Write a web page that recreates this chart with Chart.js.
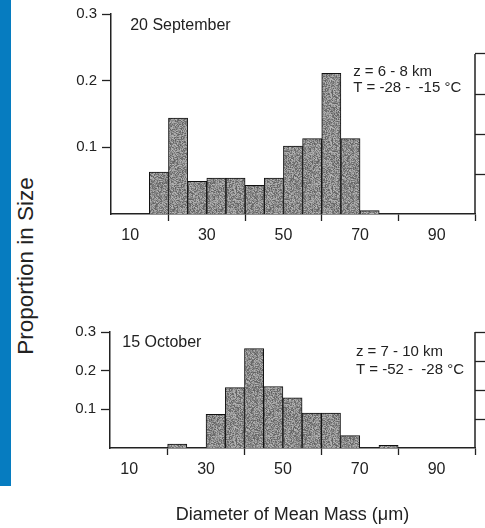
<!DOCTYPE html>
<html lang="en">
<head>
<meta charset="UTF-8">
<title>Proportion in Size</title>
<script src="https://cdn.jsdelivr.net/npm/chart.js"></script>
<style>
    body { margin: 0; background: #fff; width: 485px; height: 528px; position: relative; overflow: hidden; }
    #barra { position: absolute; left: 0; top: 0; width: 11px; height: 486px; background: #067cc0; }
    #titulo_y { position: absolute; left: 26px; top: 266px; transform: translate(-50%, -50%) rotate(-90deg);
        font: 22.5px 'Liberation Sans', Arial, sans-serif; color: #222; white-space: nowrap; }
    #painel1 { position: absolute; left: 0; top: 0; }
    #painel2 { position: absolute; left: 0; top: 300px; }
</style>
</head>
<body>
<div id="barra"></div>
<div id="titulo_y">Proportion in Size</div>
<canvas id="painel1" width="485" height="250"></canvas>
<canvas id="painel2" width="485" height="228"></canvas>
<script>
// bins (lower edge, um) and proportions
var binStarts = [15, 20, 25, 30, 35, 40, 45, 50, 55, 60, 65, 70, 75];
var binWidth = 5;
var septValues = [0.063, 0.144, 0.049, 0.054, 0.054, 0.043, 0.054, 0.102, 0.113, 0.211, 0.113, 0.005, 0];
var octValues  = [0, 0.010, 0, 0.087, 0.156, 0.257, 0.159, 0.130, 0.090, 0.090, 0.032, 0, 0.007];
var xTicks = [10, 30, 50, 70, 90];
var yTicks = [0.1, 0.2, 0.3];
var rightTicks = [1, 2, 3, 4];

Chart.defaults.font.family = "'Liberation Sans', Arial, sans-serif";
Chart.defaults.color = '#222';

// grey stipple like the printed bars
function pontilhado() {
    var c = document.createElement('canvas');
    c.width = 48; c.height = 48;
    var g = c.getContext('2d');
    var img = g.createImageData(48, 48);
    var s = 7;
    for (var i = 0; i < img.data.length; i += 4) {
        s = (s * 1103515245 + 12345) & 0x7fffffff;
        var v = 95 + ((s >> 16) % 90);
        img.data[i] = img.data[i + 1] = img.data[i + 2] = v;
        img.data[i + 3] = 255;
    }
    g.putImageData(img, 0, 0);
    return g.createPattern(c, 'repeat');
}
var textura = pontilhado();

// text labels + partial right axis line
var extras = {
    id: 'extras',
    afterDraw: function (chart) {
        var o = chart.options.plugins.extras;
        var ctx = chart.ctx, x = chart.scales.x, y = chart.scales.y, y2 = chart.scales.y2;
        ctx.save();
        ctx.strokeStyle = '#222';
        ctx.lineWidth = 1.5;
        ctx.beginPath();
        ctx.moveTo(y2.left, y2.getPixelForValue(0));
        ctx.lineTo(y2.left, y2.getPixelForValue(o.rightTop));
        ctx.stroke();
        ctx.fillStyle = '#222';
        ctx.textBaseline = 'middle';
        o.textos.forEach(function (t) {
            ctx.font = t.size + "px 'Liberation Sans', Arial, sans-serif";
            ctx.fillText(t.text, x.getPixelForValue(t.x), y.getPixelForValue(t.y));
        });
        ctx.restore();
    }
};

function painel(id, valores, cfg) {
    return new Chart(document.getElementById(id), {
        type: 'bar',
        data: {
            datasets: [{
                data: binStarts.map(function (b, i) { return { x: b + binWidth / 2, y: valores[i] }; }),
                backgroundColor: textura,
                borderColor: '#111',
                borderWidth: 1,
                barPercentage: 1,
                categoryPercentage: 1
            }]
        },
        options: {
            responsive: false,
            animation: false,
            layout: { padding: { top: cfg.top, left: 0, right: 0, bottom: 0 } },
            plugins: {
                legend: { display: false },
                tooltip: { enabled: false },
                extras: { rightTop: cfg.rightTop, textos: cfg.textos }
            },
            scales: {
                x: {
                    type: 'linear', min: 5, max: 100, offset: false,
                    afterBuildTicks: function (s) { s.ticks = xTicks.map(function (v) { return { value: v }; }); },
                    afterFit: function (s) { s.height = cfg.xHeight; },
                    grid: { drawOnChartArea: false, tickLength: 7, tickColor: '#222', tickWidth: 1.3 },
                    border: { color: '#222', width: 1.5 },
                    ticks: { font: { size: 16 }, color: '#222', padding: 5, maxRotation: 0, autoSkip: false },
                    title: cfg.xTitle
                },
                y: {
                    position: 'left', min: 0, max: 0.3,
                    afterBuildTicks: function (s) { s.ticks = yTicks.map(function (v) { return { value: v }; }); },
                    afterFit: function (s) { s.width = cfg.yWidth; },
                    grid: { drawOnChartArea: false, tickLength: 9, tickColor: '#222', tickWidth: 1.3 },
                    border: { color: '#222', width: 1.5 },
                    ticks: { font: { size: 15 }, color: '#222', padding: 5,
                        callback: function (v) { return v.toFixed(1); } }
                },
                y2: {
                    position: 'right', min: 0, max: cfg.rightMax,
                    afterBuildTicks: function (s) { s.ticks = rightTicks.map(function (v) { return { value: v }; }); },
                    afterFit: function (s) { s.width = 10; },
                    grid: { drawOnChartArea: false, tickLength: 10, tickColor: '#222', tickWidth: 1.3 },
                    border: { display: false },
                    ticks: { display: false }
                }
            }
        },
        plugins: [extras]
    });
}

painel('painel1', septValues, {
    top: 14, xHeight: 36, yWidth: 111, rightMax: 5, rightTop: 4,
    xTitle: { display: false },
    textos: [
        { text: '20 September', x: 10, y: 0.282, size: 16 },
        { text: 'z = 6 - 8 km', x: 68.2, y: 0.213, size: 15 },
        { text: 'T = -28 -  -15 \u00B0C', x: 68.2, y: 0.189, size: 15 }
    ]
});

painel('painel2', octValues, {
    top: 32, xHeight: 80, yWidth: 110, rightMax: 4, rightTop: 4,
    xTitle: { display: true, text: 'Diameter of Mean Mass (\u03BCm)', font: { size: 18 }, color: '#222',
        padding: { top: 0, bottom: 2 } },
    textos: [
        { text: '15 October', x: 8.2, y: 0.272, size: 16 },
        { text: 'z = 7 - 10 km', x: 69, y: 0.248, size: 15 },
        { text: 'T = -52 -  -28 \u00B0C', x: 69, y: 0.201, size: 15 }
    ]
});
</script>
</body>
</html>
